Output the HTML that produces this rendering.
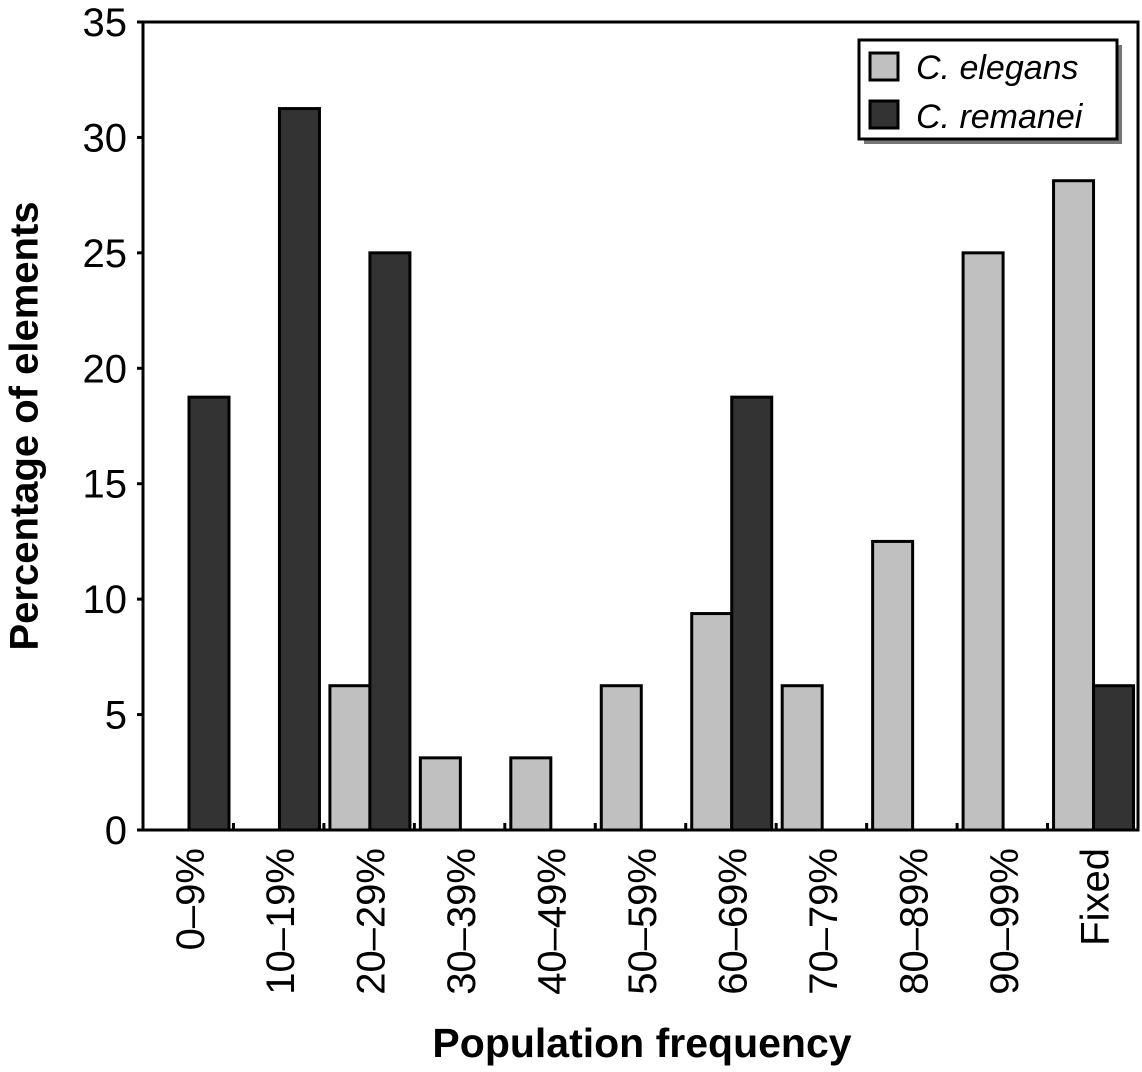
<!DOCTYPE html>
<html><head><meta charset="utf-8"><style>
body{margin:0;background:#fff}
svg text{font-family:"Liberation Sans",Arial,sans-serif}
</style></head><body>
<svg id="c" width="1142" height="1067" xmlns="http://www.w3.org/2000/svg">
<g id="bars"></g>
<g id="axes"></g>
<text x="27" y="426" transform="rotate(-90 27 426)" text-anchor="middle" dominant-baseline="middle" font-size="40" font-weight="bold">Percentage of elements</text>
<text x="642" y="1057" text-anchor="middle" font-size="41" font-weight="bold">Population frequency</text>
<g>
<rect x="864" y="45" width="258" height="99" fill="#777"/>
<rect x="859" y="40" width="258" height="99" fill="#fff" stroke="#000" stroke-width="3"/>
<rect x="870" y="53" width="28" height="27" fill="#c0c0c0" stroke="#000" stroke-width="3"/>
<text x="916" y="79" font-size="34" font-style="italic">C. elegans</text>
<rect x="870" y="101" width="28" height="27" fill="#333" stroke="#000" stroke-width="3"/>
<text x="916" y="128" font-size="34" font-style="italic">C. remanei</text>
</g>
</svg>
<script>
const categories=["0–9%","10–19%","20–29%","30–39%","40–49%","50–59%","60–69%","70–79%","80–89%","90–99%","Fixed"];
const elegans=[0,0,6.25,3.125,3.125,6.25,9.375,6.25,12.5,25,28.125];
const remanei=[18.75,31.25,25,0,0,0,18.75,0,0,0,6.25];
const yTicks=[0,5,10,15,20,25,30,35];
const NS="http://www.w3.org/2000/svg";
const X0=143,X1=1138,Y0=830,Y1=22,YMAX=35;
const cw=(X1-X0)/categories.length;
function y(v){return Y0-(v/YMAX)*(Y0-Y1);}
function xc(i){return X0+i*cw;}
function mk(tag,attrs,parent){const e=document.createElementNS(NS,tag);for(const k in attrs)e.setAttribute(k,attrs[k]);parent.appendChild(e);return e;}
const bars=document.getElementById('bars'),axes=document.getElementById('axes');
categories.forEach((c,i)=>{
  if(elegans[i]>0){const r=mk('rect',{x:xc(i)+6,y:y(elegans[i]),width:40,height:Y0-y(elegans[i]),fill:'#c0c0c0',stroke:'#000','stroke-width':3},bars);
    
    }
  if(remanei[i]>0){const r=mk('rect',{x:xc(i)+46,y:y(remanei[i]),width:40,height:Y0-y(remanei[i]),fill:'#333',stroke:'#000','stroke-width':3},bars);
    
    }
  const cx=xc(i)+cw/2+5;
  const t=mk('text',{x:cx,y:848,transform:`rotate(-90 ${cx} 848)`,'text-anchor':'end','dominant-baseline':'middle','font-size':40},axes);
  t.textContent=c;
  
  
  if(i>0){const tk=mk('line',{x1:xc(i),x2:xc(i),y1:Y0,y2:Y0-7,stroke:'#000','stroke-width':3},axes);
    
    }
});
yTicks.forEach(v=>{
  const t=mk('text',{x:127,y:y(v)+14,'text-anchor':'end','font-size':40},axes);
  t.textContent=v;
  
  
  const tk=mk('line',{x1:X0-6,x2:X0,y1:y(v),y2:y(v),stroke:'#000','stroke-width':3},axes);
  
  
});
const f=mk('rect',{x:X0,y:Y1,width:X1-X0,height:Y0-Y1,fill:'none',stroke:'#000','stroke-width':3},axes);


</script>
</body></html>
